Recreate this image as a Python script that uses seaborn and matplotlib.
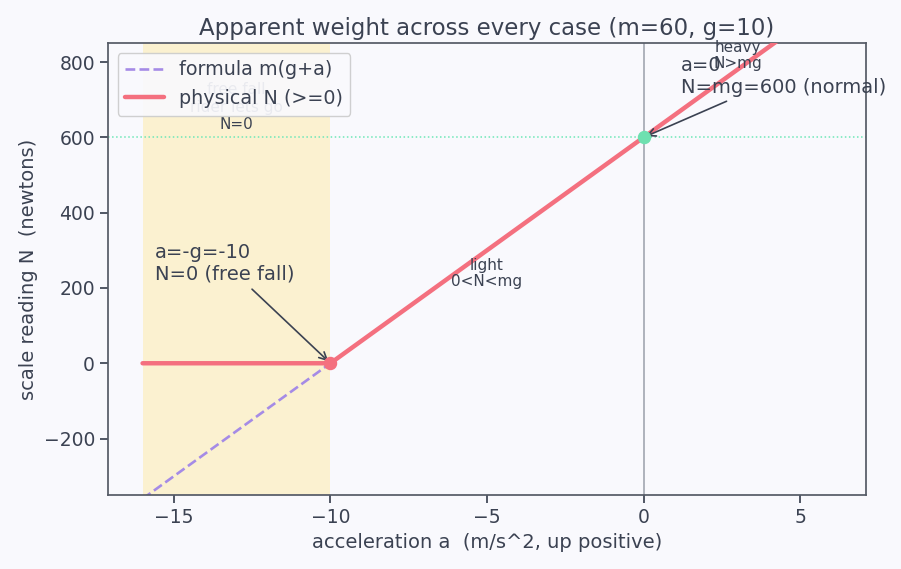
import numpy as np
import pandas as pd
import matplotlib
matplotlib.use("Agg")
import matplotlib.pyplot as plt
import seaborn as sns

# dane: m=60, g=10
m = 60
g = 10
accel = [-16, -10, 0, 7]
formula_N = [m * (g + a) for a in accel]
physical_N = [max(0, n) for n in formula_N]
key_a = [-10, 0]
key_N = [0, 600]

ink = "#3b4252"
bg = "#f9f9fd"
sns.set_theme(style="ticks", rc={
    "figure.facecolor": bg, "axes.facecolor": bg,
    "axes.edgecolor": "#555a66", "text.color": ink,
    "axes.labelcolor": ink, "xtick.color": ink, "ytick.color": ink,
})

df = pd.DataFrame({"a": accel, "formula": formula_N, "physical": physical_N})

fig, ax = plt.subplots(figsize=(9.01, 5.69), dpi=100)
fig.subplots_adjust(left=0.12, right=0.961, top=0.924, bottom=0.13)

ax.axvspan(-16, -10, color="#fcefc2", alpha=0.75, lw=0, zorder=0)
ax.axvline(0, color="#9aa0aa", lw=1.1, zorder=1)
ax.axhline(m * g, color="#6ee7b7", lw=1.1, ls=":", zorder=1)

sns.lineplot(data=df, x="a", y="formula", ax=ax, color="#a58be6", lw=1.9,
             ls="--", label="formula m(g+a)", zorder=2)
sns.lineplot(data=df, x="a", y="physical", ax=ax, color="#f4707f", lw=3.2,
             label="physical N (>=0)", zorder=3)
ax.scatter(key_a[:1], key_N[:1], color="#f4707f", s=75, zorder=5)
ax.scatter(key_a[1:], key_N[1:], color="#6ee0b0", s=75, zorder=5)

ax.text(-13, 680, "free fall\nrider lets go\nN=0", ha="center", va="center",
        fontsize=11, linespacing=1.2)
ax.text(-5, 238, "light\n0<N<mg", ha="center", va="center", fontsize=11,
        linespacing=1.05)
ax.text(3, 818, "heavy\nN>mg", ha="center", va="center", fontsize=11,
        linespacing=1.05)

arrow = dict(arrowstyle="->", color=ink, lw=1.2)
ax.annotate("a=-g=-10\nN=0 (free fall)", xy=(-10, 0), xytext=(-15.6, 265),
            fontsize=14, va="center", arrowprops=arrow)
ax.annotate("a=0\nN=mg=600 (normal)", xy=(0, 600), xytext=(1.2, 762),
            fontsize=14, va="center", arrowprops=arrow)

ax.set_xlim(-17.1, 7.1)
ax.set_ylim(-350, 850)
ax.set_xticks([-15, -10, -5, 0, 5])
ax.set_yticks([-200, 0, 200, 400, 600, 800])
ax.set_xlabel("acceleration a  (m/s^2, up positive)", fontsize=14)
ax.set_ylabel("scale reading N  (newtons)", fontsize=14)
ax.set_title("Apparent weight across every case (m=60, g=10)", fontsize=16.5)
ax.tick_params(labelsize=13.5)
ax.legend(loc="upper left", fontsize=13.75, framealpha=0.92)

plt.savefig("out.png", dpi=100)
